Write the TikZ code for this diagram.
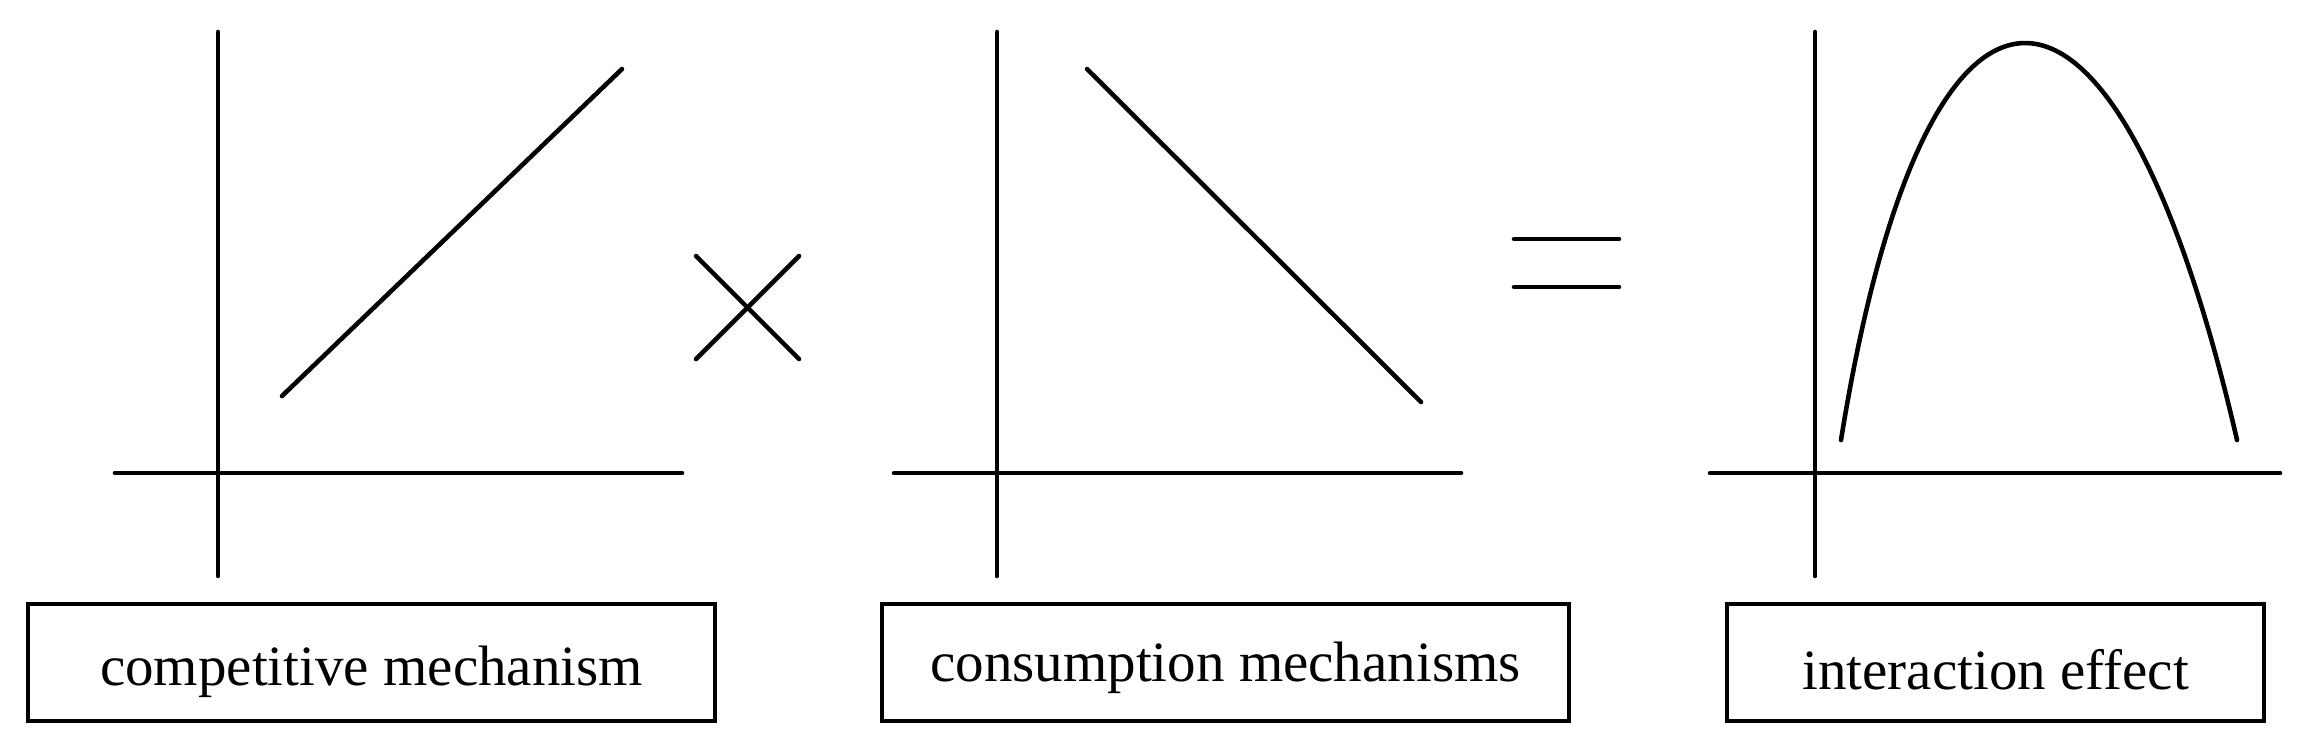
\documentclass[tikz,border=0pt]{standalone}
\usepackage{fontspec}
\setmainfont{Liberation Serif}
\newcommand{\lowertext}[2]{\raisebox{-#1}[\height][\depth]{#2}}
\begin{document}
\begin{tikzpicture}[x=0.01cm,y=-0.01cm,
  ax/.style={line width=1.3pt,line cap=round},
  curveline/.style={line width=1.3pt,line cap=round},
  label/.style={draw,line width=1.25pt,inner sep=0pt,minimum height=1.17cm,font=\fontsize{16.2}{20}\selectfont}]
\useasboundingbox (0,0) rectangle (2316,753);
% panel 1
\draw[ax] (218,32) -- (218,576);
\draw[ax] (115,473) -- (682,473);
\draw[curveline] (282,396) -- (622,69);
\node[label,minimum width=6.87cm] (b1) at (371.5,662.5) {\lowertext{0.09cm}{competitive mechanism}};
% times sign
\draw[ax] (696,256) -- (799,359);
\draw[ax] (696,359) -- (799,256);
% panel 2
\draw[ax] (997,32) -- (997,576);
\draw[ax] (894,473) -- (1461,473);
\draw[curveline] (1087,69) -- (1421,402);
\node[label,minimum width=6.87cm] (b2) at (1225.5,662.5) {\lowertext{0.05cm}{consumption mechanisms}};
% equals sign
\draw[ax] (1514,239) -- (1619,239);
\draw[ax] (1514,287) -- (1619,287);
% panel 3
\draw[ax] (1815,32) -- (1815,576);
\draw[ax] (1710,473) -- (2280,473);
\draw[curveline] (1841,440) .. controls (1926,-89.3) and (2115,-89.3) .. (2237,440);
\node[label,minimum width=5.37cm] (b3) at (1995.5,662.5) {\lowertext{0.07cm}{interaction effect}};
\end{tikzpicture}
\end{document}
